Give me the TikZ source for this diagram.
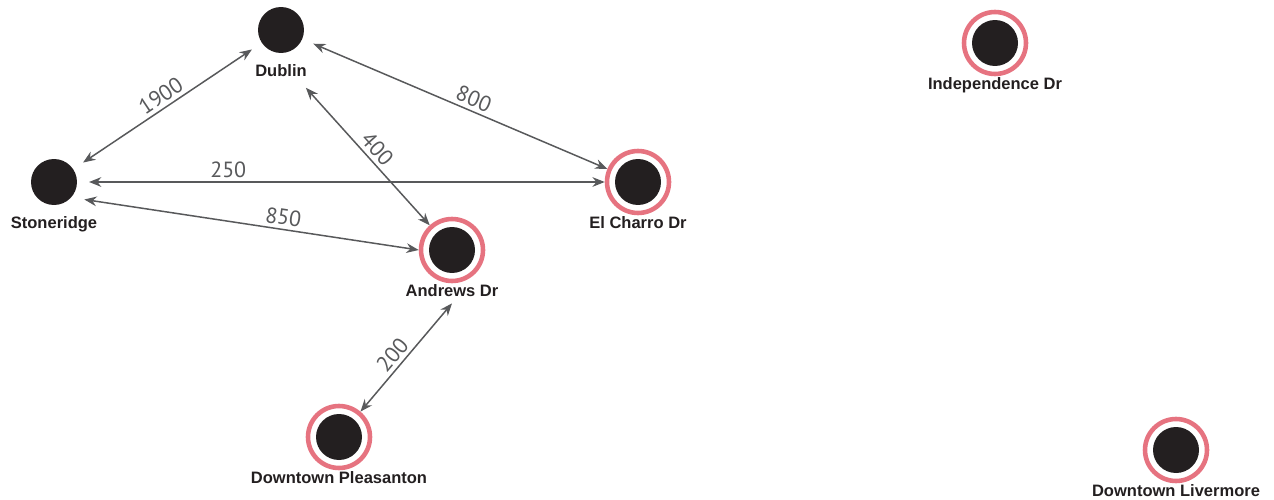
\documentclass[tikz,border=0pt]{standalone}
\usepackage{fontspec}
\setmainfont{Liberation Sans}
\newfontfamily\distfont{PT Sans}
\usetikzlibrary{arrows.meta}
\definecolor{stopblack}{RGB}{35,31,32}
\definecolor{ringpink}{RGB}{230,115,128}
\definecolor{linkgray}{RGB}{88,89,91}
\tikzset{
  stop/.style={circle, fill=stopblack, inner sep=0pt, minimum size=0.92cm, outer sep=0.24cm},
  ringstop/.style={circle, draw=ringpink, line width=2.6pt, fill=white, inner sep=0pt, minimum size=1.24cm,
    path picture={\fill[stopblack] (path picture bounding box.center) circle (0.46cm);}},
  stopname/.style={anchor=base, yshift=-0.94cm, text=stopblack, font=\bfseries\fontsize{9.4}{11}\selectfont},
  link/.style={<->, >={Stealth[length=7pt,width=5.5pt]}, draw=linkgray, line width=0.85pt},
  distlabel/.style={sloped, above, inner sep=2pt, text=linkgray, font=\distfont\fontsize{12.5}{14}\selectfont},
}
\begin{document}
\begin{tikzpicture}[x=0.02cm,y=-0.02cm]
\useasboundingbox (0,0) rectangle (1274,500);
% stops
\node[stop] (stoneridge) at (54,182) {};
\node[stop] (dublin) at (281,30) {};
\node[ringstop] (elcharro) at (638,182) {};
\node[ringstop] (andrews) at (452,250) {};
\node[ringstop] (pleasanton) at (339,437) {};
\node[ringstop] (independence) at (995,43) {};
\node[ringstop] (livermore) at (1176,450) {};
% names
\node[stopname] (stoneridge-name) at (stoneridge) {Stoneridge};
\node[stopname] (dublin-name) at (dublin) {Dublin};
\node[stopname] (elcharro-name) at (elcharro) {El Charro Dr};
\node[stopname] (andrews-name) at (andrews) {Andrews Dr};
\node[stopname] (pleasanton-name) at (pleasanton) {Downtown Pleasanton};
\node[stopname] (independence-name) at (independence) {Independence Dr};
\node[stopname] (livermore-name) at (livermore) {Downtown Livermore};
% links
\draw[link] (stoneridge) -- node[distlabel, pos=0.5] {1900} (dublin);
\draw[link] (dublin) -- node[distlabel, pos=0.53] {800} (elcharro);
\draw[link, shorten <=0.12cm] ([xshift=-0.22cm]dublin-name.south east) -- node[distlabel, pos=0.52] {400} (andrews);
\draw[link] (stoneridge) -- node[distlabel, pos=0.27] {250} (elcharro);
\draw[link] (stoneridge.-30) -- node[distlabel, pos=0.59] {850} (andrews.west);
\draw[link] (pleasanton) -- node[distlabel, pos=0.45] {200} (andrews-name.south);
\end{tikzpicture}
\end{document}
